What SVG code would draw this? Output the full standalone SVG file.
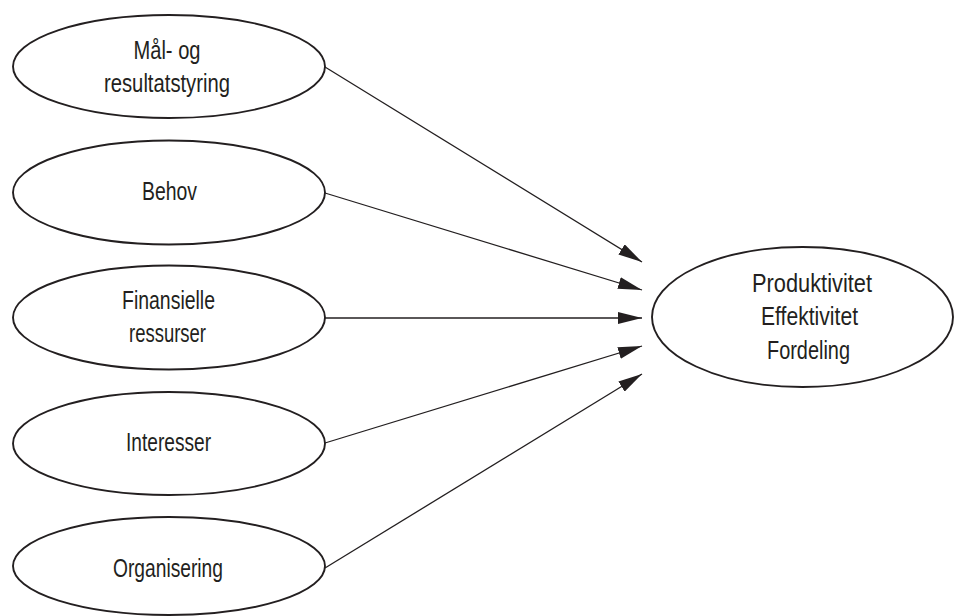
<svg xmlns="http://www.w3.org/2000/svg" width="954" height="616" viewBox="0 0 954 616">
<style>
.node ellipse{fill:#ffffff;stroke:#231f20;stroke-width:1.9}
.node text{font-family:"Liberation Sans Narrow","Liberation Sans",Arial,sans-serif;font-size:26px;fill:#231f20;text-anchor:middle}
.edges line{stroke:#231f20;stroke-width:1.3;marker-end:url(#arr)}
</style>
<defs>
<marker id="arr" markerUnits="userSpaceOnUse" markerWidth="24" markerHeight="12" refX="24" refY="6" orient="auto" viewBox="0 0 24 12">
<path d="M0,0 L24,6 L0,12 z" fill="#231f20"/>
</marker>
</defs>
<rect width="954" height="616" fill="#ffffff"/>
<g class="edges">
<line x1="325" y1="67" x2="642" y2="262"/>
<line x1="325" y1="193" x2="642" y2="290"/>
<line x1="325" y1="318" x2="642" y2="318"/>
<line x1="325" y1="443" x2="642" y2="346"/>
<line x1="325" y1="568" x2="642" y2="374"/>
</g>
<g id="n1" class="node">
<ellipse cx="169" cy="66.5" rx="156" ry="51.5"/>
<text x="167" y="58.5" textLength="67" lengthAdjust="spacingAndGlyphs">Mål- og</text>
<text x="167" y="91.5" textLength="126" lengthAdjust="spacingAndGlyphs">resultatstyring</text>
</g>
<g id="n2" class="node">
<ellipse cx="169" cy="192.5" rx="156" ry="52"/>
<text x="169.5" y="199.5" textLength="55" lengthAdjust="spacingAndGlyphs">Behov</text>
</g>
<g id="n3" class="node">
<ellipse cx="169" cy="317.5" rx="156" ry="52"/>
<text x="168.5" y="309" textLength="93" lengthAdjust="spacingAndGlyphs">Finansielle</text>
<text x="167.5" y="342" textLength="77" lengthAdjust="spacingAndGlyphs">ressurser</text>
</g>
<g id="n4" class="node">
<ellipse cx="169" cy="443.5" rx="156" ry="51.5"/>
<text x="168.5" y="451" textLength="85" lengthAdjust="spacingAndGlyphs">Interesser</text>
</g>
<g id="n5" class="node">
<ellipse cx="169" cy="566" rx="156" ry="49"/>
<text x="168" y="577" textLength="110" lengthAdjust="spacingAndGlyphs">Organisering</text>
</g>
<g id="n6" class="node">
<ellipse cx="802.5" cy="317" rx="150.5" ry="70"/>
<text x="812" y="291.5" textLength="120" lengthAdjust="spacingAndGlyphs">Produktivitet</text>
<text x="809.5" y="325" textLength="97" lengthAdjust="spacingAndGlyphs">Effektivitet</text>
<text x="808.5" y="358.5" textLength="83" lengthAdjust="spacingAndGlyphs">Fordeling</text>
</g>
</svg>
